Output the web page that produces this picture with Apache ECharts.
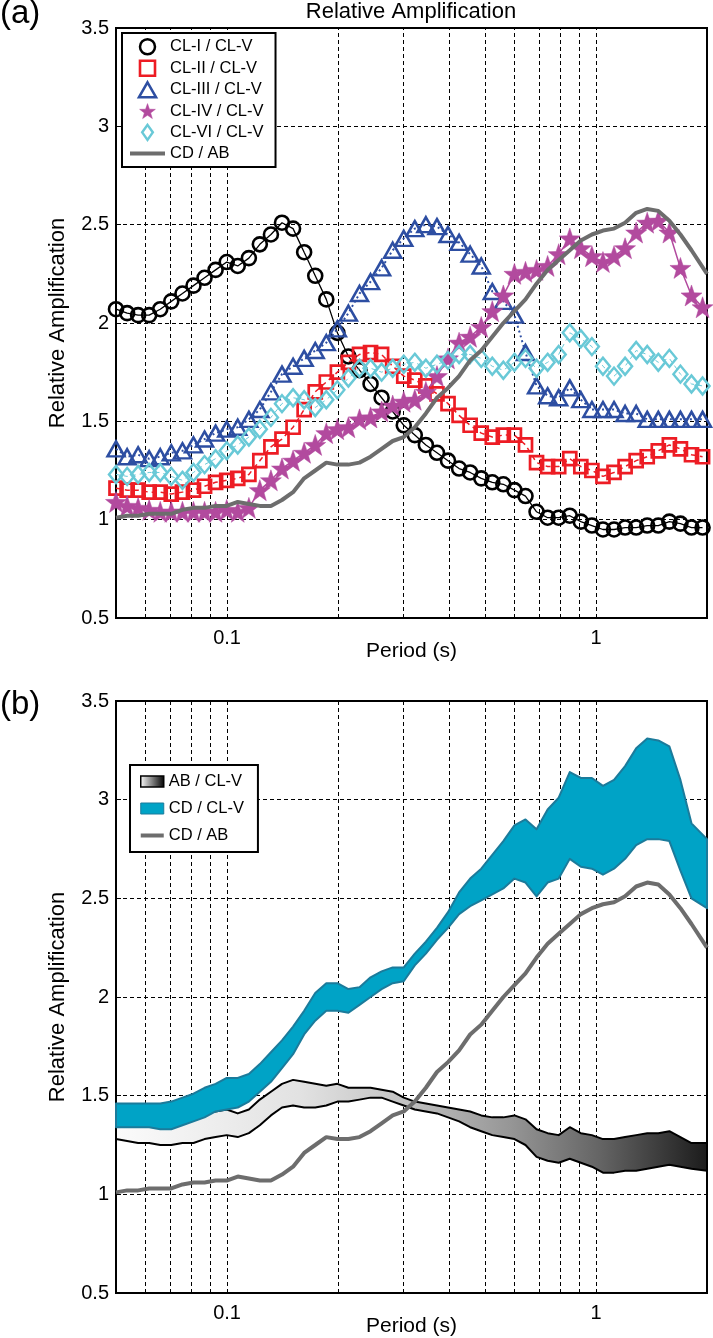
<!DOCTYPE html>
<html><head><meta charset="utf-8">
<script src="https://cdn.jsdelivr.net/npm/echarts@6/dist/echarts.min.js"></script>
<style>html,body{margin:0;padding:0;background:#fff}#c{width:713px;height:1338px}</style>
</head><body><div id="c"></div>
<script>
// ---------- data ----------
const periods = [0.05,0.0536,0.0574,0.0615,0.0659,0.0706,0.0757,0.0811,0.0869,0.0931,0.0998,0.1069,0.1146,0.1227,0.1315,0.1409,0.151,0.1618,0.1734,0.1858,0.1991,0.2133,0.2286,0.2449,0.2624,0.2812,0.3013,0.3228,0.3459,0.3707,0.3972,0.4256,0.456,0.4887,0.5236,0.561,0.6012,0.6442,0.6902,0.7396,0.7925,0.8492,0.9099,0.975,1.0447,1.1194,1.1995,1.2853,1.3772,1.4757,1.5812,1.6943,1.8155,1.9454];
const linePeriods = [0.05,0.0536,0.0574,0.0615,0.0659,0.0706,0.0757,0.0811,0.0869,0.0931,0.0998,0.1069,0.1146,0.1227,0.1315,0.1409,0.151,0.1618,0.1734,0.1858,0.1991,0.2133,0.2286,0.2449,0.2624,0.2812,0.3013,0.3228,0.3459,0.3707,0.3972,0.4256,0.456,0.4887,0.5236,0.561,0.6012,0.6442,0.6902,0.7396,0.7925,0.8492,0.9099,0.975,1.0447,1.1194,1.1995,1.2853,1.3772,1.4757,1.5812,1.6943,1.8155,2.0];

const cl1 = [2.07,2.05,2.04,2.04,2.07, 2.11,2.15,2.19,2.23,2.27, 2.31,2.29,2.33,2.40,2.45, 2.51,2.48,2.36,2.24,2.12, 1.95,1.83,1.76,1.69,1.62, 1.55,1.48,1.43,1.38,1.34, 1.30,1.26,1.24,1.21,1.19, 1.18,1.15,1.12,1.04,1.01, 1.01,1.02,0.99,0.97,0.95, 0.95,0.96,0.96,0.97,0.97, 0.99,0.98,0.96,0.96];
const cl2 = [1.16,1.15,1.15,1.14,1.14, 1.13,1.14,1.15,1.17,1.19, 1.20,1.21,1.23,1.30,1.37, 1.41,1.47,1.56,1.65,1.70, 1.75,1.80,1.84,1.85,1.84, 1.78,1.73,1.71,1.68,1.64, 1.59,1.53,1.48,1.44,1.42, 1.43,1.43,1.38,1.29,1.27, 1.27,1.31,1.27,1.25,1.22, 1.24,1.27,1.30,1.32,1.35, 1.38,1.36,1.33,1.32];
const cl3 = [1.36,1.32,1.33,1.31,1.32, 1.34,1.35,1.38,1.41,1.44, 1.46,1.47,1.51,1.56,1.65, 1.74,1.78,1.82,1.86,1.90, 1.97,2.05,2.15,2.21,2.28, 2.37,2.43,2.48,2.50,2.49, 2.45,2.41,2.35,2.29,2.16, 2.11,2.04,1.85,1.68,1.63, 1.62,1.67,1.61,1.56,1.56, 1.56,1.54,1.54,1.51,1.51, 1.51,1.51,1.51,1.51];
const cl4 = [1.09,1.07,1.06,1.05,1.04, 1.04,1.04,1.04,1.04,1.04, 1.05,1.04,1.06,1.15,1.20, 1.26,1.30,1.34,1.38,1.44, 1.46,1.47,1.51,1.52,1.55, 1.58,1.60,1.61,1.65,1.73, 1.82,1.90,1.93,1.98,2.06, 2.14,2.25,2.26,2.27,2.29, 2.35,2.43,2.38,2.34,2.31, 2.34,2.38,2.46,2.51,2.52, 2.46,2.28,2.14,2.08];
const cl6 = [1.23,1.22,1.23,1.24,1.24, 1.22,1.20,1.24,1.28,1.31, 1.35,1.38,1.42,1.46,1.52, 1.59,1.62,1.61,1.57,1.61, 1.66,1.72,1.77,1.77,1.75, 1.77,1.79,1.80,1.77,1.79, 1.81,1.84,1.84,1.82,1.78, 1.76,1.80,1.82,1.77,1.80, 1.84,1.95,1.92,1.88,1.78, 1.73,1.78,1.86,1.84,1.80, 1.82,1.74,1.69,1.68];
const cdab = [1.01,1.02,1.02,1.03,1.03, 1.03,1.05,1.06,1.06,1.07, 1.07,1.09,1.08,1.07,1.07, 1.10,1.14,1.21,1.25,1.29, 1.28,1.28,1.29,1.32,1.36, 1.40,1.42,1.47,1.54,1.62, 1.67,1.73,1.81,1.86,1.93, 2.00,2.06,2.12,2.20,2.27, 2.32,2.37,2.42,2.45,2.47, 2.48,2.51,2.56,2.58,2.57, 2.52,2.45,2.37,2.25];
const cdclvHigh = [1.46,1.46,1.46,1.46,1.46, 1.47,1.49,1.51,1.54,1.56, 1.59,1.59,1.61,1.66,1.72, 1.78,1.85,1.93,2.02,2.07, 2.07,2.04,2.05,2.10,2.13, 2.15,2.15,2.22,2.28,2.35, 2.43,2.53,2.60,2.65,2.72, 2.79,2.87,2.90,2.85,2.95, 3.01,3.14,3.11,3.11,3.07, 3.10,3.17,3.26,3.31,3.30, 3.27,3.10,2.88,2.80];
const cdclvLow = [1.34,1.34,1.34,1.34,1.33, 1.33,1.35,1.37,1.39,1.42, 1.43,1.44,1.47,1.52,1.57, 1.64,1.71,1.81,1.88,1.93, 1.93,1.92,1.96,2.00,2.04, 2.07,2.08,2.16,2.22,2.29, 2.35,2.42,2.46,2.49,2.52, 2.55,2.60,2.58,2.51,2.58, 2.60,2.70,2.66,2.65,2.62, 2.65,2.70,2.77,2.80,2.80, 2.79,2.64,2.50,2.45];
const abclvHigh = [1.38,1.38,1.38,1.38,1.38, 1.38,1.39,1.40,1.41,1.42, 1.43,1.41,1.43,1.48,1.52, 1.56,1.58,1.57,1.56,1.55, 1.56,1.54,1.54,1.54,1.53, 1.52,1.49,1.47,1.46,1.45, 1.44,1.43,1.42,1.40,1.39, 1.39,1.40,1.38,1.33,1.31, 1.30,1.34,1.31,1.30,1.28, 1.28,1.29,1.30,1.31,1.31, 1.32,1.29,1.26,1.26];
const abclvLow = [1.28,1.27,1.26,1.26,1.25, 1.25,1.26,1.26,1.28,1.29, 1.30,1.29,1.31,1.35,1.40, 1.44,1.45,1.44,1.44,1.45, 1.47,1.47,1.48,1.49,1.49, 1.47,1.45,1.43,1.42,1.41, 1.39,1.37,1.34,1.32,1.30, 1.29,1.28,1.25,1.19,1.17, 1.16,1.18,1.16,1.14,1.11, 1.11,1.12,1.12,1.13,1.14, 1.15,1.14,1.13,1.12];

const gridPeriods = [0.06,0.07,0.08,0.09,0.1,0.2,0.3,0.4,0.5,0.6,0.7,0.8,0.9,1];
const xTickLabels = [[0.1,'0.1'],[1,'1']];
const seriesNamesA = ['CL-I / CL-V','CL-II / CL-V','CL-III / CL-V','CL-IV / CL-V','CL-VI / CL-V','CD / AB'];
const seriesNamesB = ['AB / CL-V','CD / CL-V','CD / AB'];

// ---------- styling ----------
const FONT = '"Liberation Sans", Arial, Helvetica, sans-serif';
const C_RED = '#ED1C24', C_BLUE = '#2D4EA2', C_MAG = '#B24A9E', C_CYAN = '#69C9D7', C_GRAY = '#6d6d6d';
const STAR = 'path://M0,-10L2.35,-3.24L9.51,-3.09L3.8,1.24L5.88,8.09L0,4L-5.88,8.09L-3.8,1.24L-9.51,-3.09L-2.35,-3.24Z';
const CIRC = 'path://M8,0A8,8,0,1,1,8,16A8,8,0,1,1,8,0Z';
const SQ = 'path://M0,0H10V10H0Z';
const TRI = 'path://M8,0L16,14L0,14Z';
const DIA = 'path://M6,0L12,8.5L6,17L0,8.5Z';
const DASH = [4,3];

function xLabel(v){
  for (const [t,s] of xTickLabels) if (Math.abs(Math.log10(v) - Math.log10(t)) < 1e-6) return s;
  return '';
}
function xAxisDef(gi){
  return {type:'log', logBase:10, gridIndex:gi, min:0.05, max:2,
    name:'Period (s)', nameLocation:'middle', nameGap:23, nameMoveOverlap:false,
    nameTextStyle:{fontSize:21, color:'#000', fontFamily:FONT},
    axisLine:{show:false}, axisTick:{show:false}, splitLine:{show:false},
    minorTick:{show:false}, minorSplitLine:{show:false},
    axisLabel:{color:'#000', fontSize:20, fontFamily:FONT, margin:10, formatter:xLabel}};
}
function yAxisDef(gi){
  return {type:'value', gridIndex:gi, min:0.5, max:3.5, interval:0.5,
    name:'Relative Amplification', nameLocation:'middle', nameGap:47, nameRotate:90, nameMoveOverlap:false,
    nameTextStyle:{fontSize:22, color:'#000', fontFamily:FONT},
    axisLine:{show:false},
    axisTick:{show:true, inside:true, length:5, lineStyle:{color:'#000', width:1}},
    splitLine:{show:true, lineStyle:{color:'#000', type:DASH, width:1}},
    axisLabel:{color:'#000', fontSize:20, fontFamily:FONT, margin:7}};
}
function vGridSeries(gi){
  return {type:'line', xAxisIndex:gi, yAxisIndex:gi, data:[], silent:true, symbol:'none',
    markLine:{silent:true, z:1, symbol:['none','none'], label:{show:false}, animation:false,
      lineStyle:{color:'#000', type:DASH, width:1},
      emphasis:{disabled:true},
      data: gridPeriods.map(v=>({xAxis:v}))}};
}
function pts(xs, ys){ return xs.map((p,i)=>[p, ys[i]]); }
function markerSeries(name, ys, symbol, size, itemStyle, lineStyle){
  return {type:'line', name, xAxisIndex:0, yAxisIndex:0, data:pts(periods, ys),
    symbol, symbolSize:size, showSymbol:true, itemStyle, lineStyle, z:2,
    emphasis:{disabled:true}};
}
function bandSeries(name, low, high, fill, stroke, z){
  return {type:'custom', name, xAxisIndex:1, yAxisIndex:1, z,
    data: linePeriods.map((p,i)=>[p, low[i], high[i]]),
    encode:{x:0, y:[1,2]},
    renderItem:(params, api)=>{
      if (params.dataIndex !== 0) return null;
      const top = linePeriods.map((p,i)=>api.coord([p, high[i]]));
      const bot = linePeriods.map((p,i)=>api.coord([p, low[i]]));
      const poly = top.concat(bot.slice().reverse());
      let f = fill;
      if (fill === 'grad') {
        f = new echarts.graphic.LinearGradient(top[0][0], 0, top[top.length-1][0], 0, [
          {offset:0, color:'#fbfbfb'}, {offset:0.31, color:'#e2e2e2'}, {offset:0.48, color:'#c4c4c4'},
          {offset:0.667, color:'#969696'}, {offset:0.82, color:'#646464'}, {offset:1, color:'#1c1c1c'}], true);
      }
      return {type:'polygon', shape:{points:poly}, style:{fill:f, stroke, lineWidth:2, lineJoin:'round'}};
    }};
}

const chart = echarts.init(document.getElementById('c'));
chart.setOption({
  animation:false,
  backgroundColor:'#fff',
  textStyle:{fontFamily:FONT},
  title:[
    {text:'Relative Amplification', left:411, textAlign:'center', top:1, padding:0,
      textStyle:{fontSize:22, fontWeight:'normal', color:'#000', fontFamily:FONT}},
    {text:'(a)', left:0, top:-3, padding:0, textStyle:{fontSize:33, fontWeight:'normal', color:'#000', fontFamily:FONT}},
    {text:'(b)', left:0, top:688, padding:0, textStyle:{fontSize:33, fontWeight:'normal', color:'#000', fontFamily:FONT}}
  ],
  grid:[
    {left:116, top:28, width:591, height:590, show:true, borderColor:'#000', borderWidth:2, backgroundColor:'#fff', outerBoundsMode:'none', containLabel:false},
    {left:116, top:701, width:591, height:592, show:true, borderColor:'#000', borderWidth:2, backgroundColor:'#fff', outerBoundsMode:'none', containLabel:false}
  ],
  xAxis:[xAxisDef(0), xAxisDef(1)],
  yAxis:[yAxisDef(0), yAxisDef(1)],
  legend:[
    {orient:'vertical', left:122, top:33, padding:[5,12,5,8], itemWidth:35, itemHeight:15, itemGap:4,
      backgroundColor:'#fff', borderColor:'#000', borderWidth:2, borderRadius:0, selectedMode:false, z:10,
      textStyle:{fontSize:16.5, color:'#000', fontFamily:FONT},
      data:[
        {name:seriesNamesA[0], icon:CIRC, itemStyle:{color:'rgba(0,0,0,0)', borderColor:'#000', borderWidth:2.5}},
        {name:seriesNamesA[1], icon:SQ, itemStyle:{color:'rgba(0,0,0,0)', borderColor:C_RED, borderWidth:2.6}},
        {name:seriesNamesA[2], icon:TRI, itemStyle:{color:'rgba(0,0,0,0)', borderColor:C_BLUE, borderWidth:2.5}},
        {name:seriesNamesA[3], icon:STAR, itemStyle:{color:C_MAG, borderColor:C_MAG, borderWidth:0.5}},
        {name:seriesNamesA[4], icon:DIA, itemStyle:{color:'rgba(0,0,0,0)', borderColor:C_CYAN, borderWidth:2.5}},
        {name:seriesNamesA[5], icon:'path://M0,0H35V4H0Z', itemStyle:{color:C_GRAY, borderWidth:0}}
      ]},
    {orient:'vertical', left:130, top:765, padding:[8,14,8,10], itemWidth:23, itemHeight:11, itemGap:10,
      backgroundColor:'#fff', borderColor:'#000', borderWidth:2, borderRadius:0, selectedMode:false, z:10,
      textStyle:{fontSize:16.5, color:'#000', fontFamily:FONT},
      data:[
        {name:seriesNamesB[0], icon:'rect', itemStyle:{color:new echarts.graphic.LinearGradient(0,0,1,0,[{offset:0,color:'#ffffff'},{offset:1,color:'#000000'}]), borderColor:'#000', borderWidth:1.5}},
        {name:seriesNamesB[1], icon:'rect', itemStyle:{color:'#00A3C6', borderColor:'#1b7b9b', borderWidth:1}},
        {name:seriesNamesB[2], icon:'path://M0,0H23V4H0Z', itemStyle:{color:C_GRAY, borderWidth:0}}
      ]}
  ],
  series:[
    vGridSeries(0), vGridSeries(1),
    markerSeries(seriesNamesA[0], cl1, 'circle', 14, {color:'rgba(0,0,0,0)', borderColor:'#000', borderWidth:2.6}, {color:'#000', width:1.3}),
    markerSeries(seriesNamesA[1], cl2, 'rect', 13, {color:'rgba(0,0,0,0)', borderColor:C_RED, borderWidth:2.7}, {color:C_RED, width:1.5, type:[5,4]}),
    markerSeries(seriesNamesA[2], cl3, 'triangle', [17,15], {color:'rgba(0,0,0,0)', borderColor:C_BLUE, borderWidth:2.5}, {color:C_BLUE, width:2, type:[2,3]}),
    markerSeries(seriesNamesA[3], cl4, STAR, 21, {color:C_MAG, borderColor:C_MAG, borderWidth:0.5}, {color:C_MAG, width:1.5}),
    markerSeries(seriesNamesA[4], cl6, 'diamond', [14,17], {color:'rgba(0,0,0,0)', borderColor:C_CYAN, borderWidth:2.5}, {color:C_CYAN, width:1, type:[4,4]}),
    {type:'line', name:seriesNamesA[5], xAxisIndex:0, yAxisIndex:0, data:pts(linePeriods, cdab), symbol:'none',
      itemStyle:{color:C_GRAY}, lineStyle:{color:C_GRAY, width:4}, z:3, emphasis:{disabled:true}},
    bandSeries(seriesNamesB[0], abclvLow, abclvHigh, 'grad', '#000', 2),
    bandSeries(seriesNamesB[1], cdclvLow, cdclvHigh, '#00A3C6', '#1b7b9b', 3),
    {type:'line', name:seriesNamesB[2], xAxisIndex:1, yAxisIndex:1, data:pts(linePeriods, cdab), symbol:'none',
      itemStyle:{color:C_GRAY}, lineStyle:{color:C_GRAY, width:4}, z:4, emphasis:{disabled:true}}
  ]
});
</script></body></html>
